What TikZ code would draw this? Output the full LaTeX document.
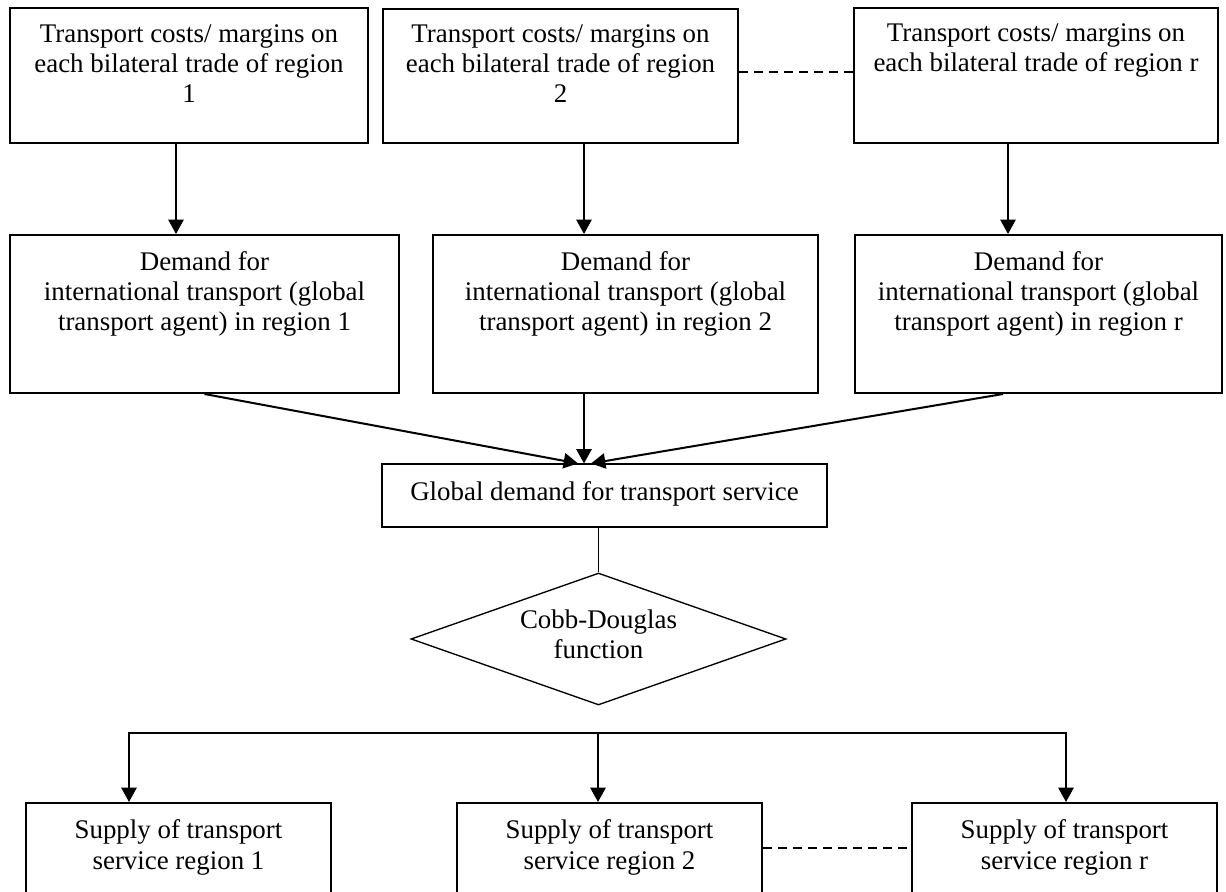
\documentclass[tikz,border=0pt]{standalone}
\usepackage{fontspec}
\setmainfont{Liberation Serif}
\usetikzlibrary{arrows.meta,fit,shapes.geometric}
\begin{document}
\begin{tikzpicture}[x=0.446pt,y=-0.446pt,
  box/.style={draw, line width=0.9pt, inner sep=0pt},
  thinbox/.style={draw, line width=0.5pt, inner sep=0pt},
  % anchored at the baseline of the last line
  txt/.style={align=center, inner sep=0pt, anchor=base,
    font=\fontsize{12}{13.5}\selectfont},
  arr/.style={line width=0.9pt, -{Triangle[length=6.4pt,width=6.8pt]}},
  thinlink/.style={line width=0.5pt},
  dotlink/.style={line width=0.6pt, dash pattern=on 3.8pt off 2.9pt}]

% page frame, the supply boxes run past its lower edge
\path[use as bounding box, clip] (0,0) rectangle (1226,892);

% transport cost boxes
\node[box, fit={(10,8) (368,143)}] (t1) {};
\node[box, fit={(383,9) (738,143)}] (t2) {};
\node[box, fit={(854,8) (1218,143)}] (t3) {};
\node[txt] (t1t) at (189,103) {Transport costs/ margins on\\each bilateral trade of region\\1};
\node[txt] (t2t) at (560.5,103) {Transport costs/ margins on\\each bilateral trade of region\\2};
\node[txt] (t3t) at (1036,72) {Transport costs/ margins on\\each bilateral trade of region r};

% regional demand boxes
\node[box, fit={(10,235) (399,393)}] (d1) {};
\node[box, fit={(433,235) (818,393)}] (d2) {};
\node[box, fit={(855,235) (1222,393)}] (d3) {};
\node[txt] (d1t) at (204.5,331) {Demand for\\international transport (global\\transport agent) in region 1};
\node[txt] (d2t) at (625.5,331) {Demand for\\international transport (global\\transport agent) in region 2};
\node[txt] (d3t) at (1038.5,331) {Demand for\\international transport (global\\transport agent) in region r};

% global demand and the Cobb-Douglas split
\node[thinbox, fit={(382,464) (827,527)}] (g) {};
\node[txt] (gt) at (604.5,501) {Global demand for transport service};
\node[draw, diamond, line width=0.6pt, inner sep=0pt, aspect=2.84,
      minimum width=167.25pt, minimum height=58.87pt] (cd) at (598.5,639) {};
\node[txt] (cdt) at (598.5,659) {Cobb-Douglas\\function};

% supply boxes
\node[box, fit={(26,803) (331,905)}] (s1) {};
\node[box, fit={(457,803) (762,905)}] (s2) {};
\node[box, fit={(912,803) (1217,905)}] (s3) {};
\node[txt] (s1t) at (178.5,869) {Supply of transport\\service region 1};
\node[txt] (s2t) at (609.5,869) {Supply of transport\\service region 2};
\node[txt] (s3t) at (1064.5,869) {Supply of transport\\service region r};

% cost boxes to demand boxes
\draw[arr] (176,0 |- t1.south) -- (176,0 |- d1.north);
\draw[arr] (584,0 |- t2.south) -- (584,0 |- d2.north);
\draw[arr] (1008,0 |- t3.south) -- (1008,0 |- d3.north);
\draw[dotlink] (t2.east |- 0,72) -- (t3.west |- 0,72);

% demand boxes to global demand
\draw[arr] (d1.south) -- (578,0 |- g.north);
\draw[arr] (584,0 |- d2.south) -- (584,0 |- g.north);
\draw[arr] (1003,0 |- d3.south) -- (591,0 |- g.north);

% global demand to the Cobb-Douglas function
\draw[thinlink] (cd.north |- g.south) -- (cd.north);

% distribution to the regional suppliers
\coordinate (bus) at (598,733);
\draw[arr] (bus) -| (129,0 |- s1.north);
\draw[arr] (bus) -- (bus |- s2.north);
\draw[arr] (bus) -| (1066,0 |- s3.north);
\draw[dotlink] (s2.east |- 0,848) -- (s3.west |- 0,848);
\end{tikzpicture}
\end{document}
